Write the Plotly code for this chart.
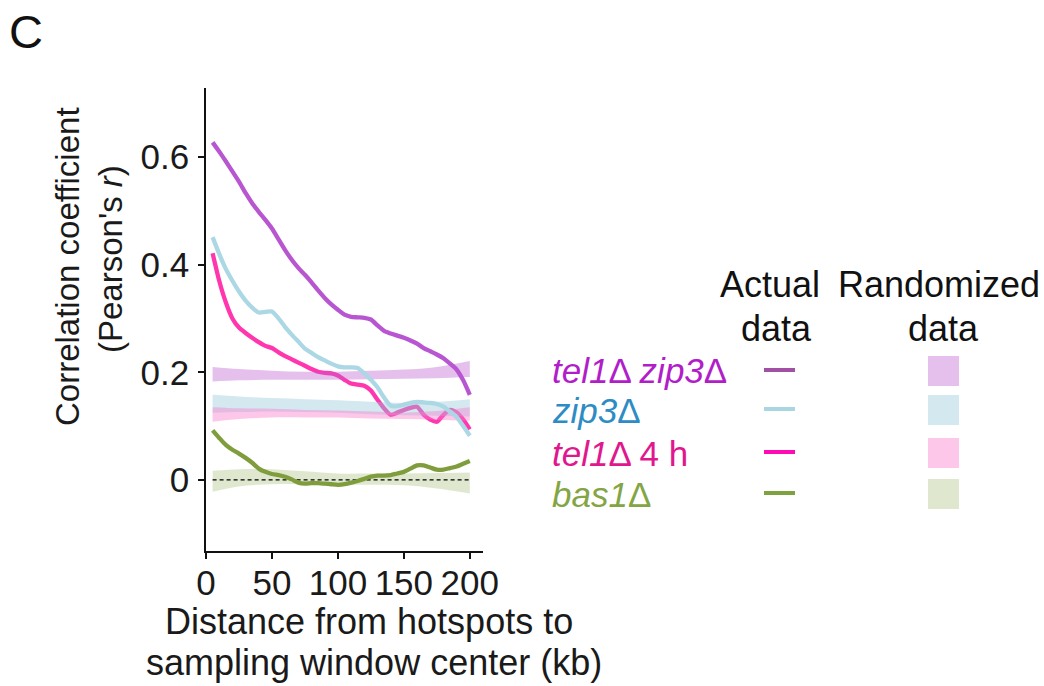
import plotly.graph_objects as go

# Distance from hotspots to sampling window center (kb)
distance_kb = [5, 10, 15, 20, 25, 30, 35, 40, 45, 50, 55, 60, 65, 70, 75, 80, 85, 90, 95, 100,
               105, 110, 115, 120, 125, 130, 135, 140, 145, 150, 155, 160, 165, 170, 175, 180,
               185, 190, 195, 200]

# Actual data: Pearson's r per strain
r_tel1_zip3 = [0.627, 0.610, 0.592, 0.573, 0.554, 0.533, 0.514, 0.498, 0.483, 0.467,
               0.447, 0.427, 0.409, 0.394, 0.381, 0.367, 0.352, 0.338, 0.326, 0.316,
               0.307, 0.303, 0.302, 0.301, 0.298, 0.287, 0.277, 0.272, 0.268, 0.264,
               0.259, 0.253, 0.245, 0.239, 0.233, 0.226, 0.216, 0.205, 0.185, 0.158]
r_zip3 = [0.451, 0.420, 0.392, 0.370, 0.350, 0.333, 0.320, 0.311, 0.312, 0.313,
          0.300, 0.284, 0.270, 0.257, 0.244, 0.236, 0.228, 0.222, 0.216, 0.211,
          0.209, 0.209, 0.208, 0.198, 0.186, 0.172, 0.153, 0.138, 0.137, 0.140,
          0.143, 0.145, 0.144, 0.143, 0.141, 0.136, 0.127, 0.117, 0.100, 0.082]
r_tel1_4h = [0.421, 0.370, 0.330, 0.300, 0.283, 0.273, 0.264, 0.256, 0.249, 0.245,
             0.237, 0.230, 0.224, 0.218, 0.212, 0.206, 0.201, 0.199, 0.198, 0.194,
             0.186, 0.179, 0.177, 0.175, 0.166, 0.149, 0.133, 0.121, 0.125, 0.130,
             0.134, 0.136, 0.121, 0.112, 0.108, 0.121, 0.130, 0.125, 0.112, 0.094]
r_bas1 = [0.092, 0.078, 0.065, 0.056, 0.049, 0.041, 0.032, 0.021, 0.015, 0.011,
          0.009, 0.006, 0.001, -0.005, -0.007, -0.006, -0.006, -0.007, -0.008, -0.009,
          -0.008, -0.005, -0.002, 0.002, 0.006, 0.008, 0.008, 0.009, 0.012, 0.015,
          0.021, 0.027, 0.027, 0.023, 0.019, 0.019, 0.022, 0.025, 0.030, 0.035]

# Randomized data: band limits
band_kb = [5, 25, 50, 75, 100, 125, 150, 175, 200]
rand_tel1_zip3_lo = [0.183, 0.185, 0.186, 0.186, 0.186, 0.187, 0.188, 0.189, 0.191]
rand_tel1_zip3_hi = [0.210, 0.206, 0.203, 0.201, 0.201, 0.203, 0.205, 0.210, 0.221]
rand_zip3_lo = [0.125, 0.126, 0.127, 0.126, 0.125, 0.122, 0.120, 0.119, 0.118]
rand_zip3_hi = [0.158, 0.155, 0.152, 0.150, 0.148, 0.145, 0.143, 0.145, 0.150]
rand_tel1_4h_lo = [0.108, 0.113, 0.116, 0.116, 0.116, 0.114, 0.113, 0.112, 0.110]
rand_tel1_4h_hi = [0.135, 0.133, 0.132, 0.130, 0.129, 0.127, 0.125, 0.128, 0.135]
rand_bas1_lo = [-0.022, -0.012, -0.008, -0.008, -0.009, -0.009, -0.010, -0.016, -0.025]
rand_bas1_hi = [0.017, 0.020, 0.020, 0.016, 0.012, 0.012, 0.012, 0.013, 0.014]

x_ticks = [0, 50, 100, 150, 200]
y_ticks = [0, 0.2, 0.4, 0.6]
y_tick_text = ["0", "0.2", "0.4", "0.6"]

strain_labels = ["<i>tel1</i>Δ <i>zip3</i>Δ", "<i>zip3</i>Δ", "<i>tel1</i>Δ 4 h", "<i>bas1</i>Δ"]
label_colors = ["#b11ec9", "#2e8cc4", "#e0178d", "#84a545"]
line_colors = ["#b856d1", "#acd7e4", "#ff36ad", "#7f9d3c"]
swatch_line_colors = ["#a250a3", "#a8d6e2", "#ff0ab6", "#7ea23f"]
band_colors = ["rgba(190,98,208,0.4)", "rgba(150,200,218,0.42)",
               "rgba(250,122,205,0.42)", "rgba(178,200,140,0.42)"]

FONT = "Liberation Sans"
TXT = "#1a1a1a"

W, H = 1044, 686
L, R, T, B = 206, 483, 88, 551   # plot area in pixels


def px(x):
    return (x - L) / (R - L)


def py(y):
    return (B - y) / (B - T)


fig = go.Figure()

actual = [r_tel1_zip3, r_zip3, r_tel1_4h, r_bas1]
bands = [(rand_tel1_zip3_lo, rand_tel1_zip3_hi), (rand_zip3_lo, rand_zip3_hi),
         (rand_tel1_4h_lo, rand_tel1_4h_hi), (rand_bas1_lo, rand_bas1_hi)]

# pink line sits under the randomized bands
fig.add_trace(go.Scatter(x=distance_kb, y=r_tel1_4h, mode="lines",
                         line=dict(color=line_colors[2], width=4.3, shape="spline", smoothing=0.6),
                         showlegend=False, hoverinfo="skip"))

for (lo, hi), col in zip(bands, band_colors):
    fig.add_trace(go.Scatter(x=band_kb, y=lo, mode="lines", line=dict(width=0, shape="spline"),
                             showlegend=False, hoverinfo="skip"))
    fig.add_trace(go.Scatter(x=band_kb, y=hi, mode="lines", line=dict(width=0, shape="spline"),
                             fill="tonexty", fillcolor=col, showlegend=False, hoverinfo="skip"))

# zero reference
fig.add_trace(go.Scatter(x=[distance_kb[0], distance_kb[-1]], y=[0, 0], mode="lines",
                         line=dict(color="#000", width=1.2, dash="4px,3px"),
                         showlegend=False, hoverinfo="skip"))

for i in [0, 1, 3]:
    fig.add_trace(go.Scatter(x=distance_kb, y=actual[i], mode="lines",
                             line=dict(color=line_colors[i], width=4.3, shape="spline", smoothing=0.6),
                             showlegend=False, hoverinfo="skip"))

ann = []
shapes = []

# panel letter
ann.append(dict(text="C", x=px(7), y=py(31), xanchor="left", yanchor="middle",
                font=dict(size=47, color="#111", family=FONT)))

# y title
ann.append(dict(text="Correlation coefficient", x=px(67), y=py(267), textangle=-90,
                xanchor="center", yanchor="middle", font=dict(size=33, color=TXT, family=FONT)))
ann.append(dict(text="(Pearson's <i>r</i>)", x=px(110), y=py(259), textangle=-90,
                xanchor="center", yanchor="middle", font=dict(size=33, color=TXT, family=FONT)))

# x title
ann.append(dict(text="Distance from hotspots to", x=px(369), y=py(621),
                xanchor="center", yanchor="middle", font=dict(size=36, color=TXT, family=FONT)))
ann.append(dict(text="sampling window center (kb)", x=px(374), y=py(662),
                xanchor="center", yanchor="middle", font=dict(size=36, color=TXT, family=FONT)))

# legend headers
ann.append(dict(text="Actual", x=px(770), y=py(284), xanchor="center", yanchor="middle",
                font=dict(size=36, color="#111", family=FONT)))
ann.append(dict(text="data", x=px(776), y=py(328), xanchor="center", yanchor="middle",
                font=dict(size=36, color="#111", family=FONT)))
ann.append(dict(text="Randomized", x=px(939), y=py(284), xanchor="center", yanchor="middle",
                font=dict(size=36, color="#111", family=FONT)))
ann.append(dict(text="data", x=px(943), y=py(328), xanchor="center", yanchor="middle",
                font=dict(size=36, color="#111", family=FONT)))

row_y = [371, 410, 453, 494]
for lab, c, lc, bc, yy in zip(strain_labels, label_colors, swatch_line_colors, band_colors, row_y):
    ann.append(dict(text=lab, x=px(550), y=py(yy), xanchor="left", yanchor="middle",
                    font=dict(size=35, color=c, family=FONT)))
    shapes.append(dict(type="line", xref="paper", yref="paper",
                       x0=px(764), x1=px(795), y0=py(yy - 1), y1=py(yy - 1),
                       line=dict(color=lc, width=4)))
    shapes.append(dict(type="rect", xref="paper", yref="paper",
                       x0=px(928), x1=px(959), y0=py(yy - 15), y1=py(yy + 15),
                       fillcolor=bc, line=dict(width=0)))

for a in ann:
    a.update(xref="paper", yref="paper", showarrow=False)

fig.update_layout(
    width=W, height=H,
    margin=dict(l=L, r=W - R, t=T, b=H - B, pad=0),
    paper_bgcolor="white", plot_bgcolor="white",
    annotations=ann, shapes=shapes,
    font=dict(family=FONT, color=TXT),
    xaxis=dict(range=[0, 210], tickmode="array", tickvals=x_ticks, ticktext=[str(v) for v in x_ticks],
               showline=True, linecolor="#111", linewidth=1.5, ticks="outside", ticklen=6,
               tickwidth=1.5, tickcolor="#111", showgrid=False, zeroline=False,
               tickfont=dict(size=35, color=TXT, family=FONT), ticklabelstandoff=-6),
    yaxis=dict(range=[-0.132, 0.728], tickmode="array", tickvals=y_ticks, ticktext=y_tick_text,
               showline=True, linecolor="#111", linewidth=1.5, ticks="outside", ticklen=6,
               tickwidth=1.5, tickcolor="#111", showgrid=False, zeroline=False,
               tickfont=dict(size=35, color=TXT, family=FONT), ticklabelstandoff=2),
)

fig.write_html("out.html")
